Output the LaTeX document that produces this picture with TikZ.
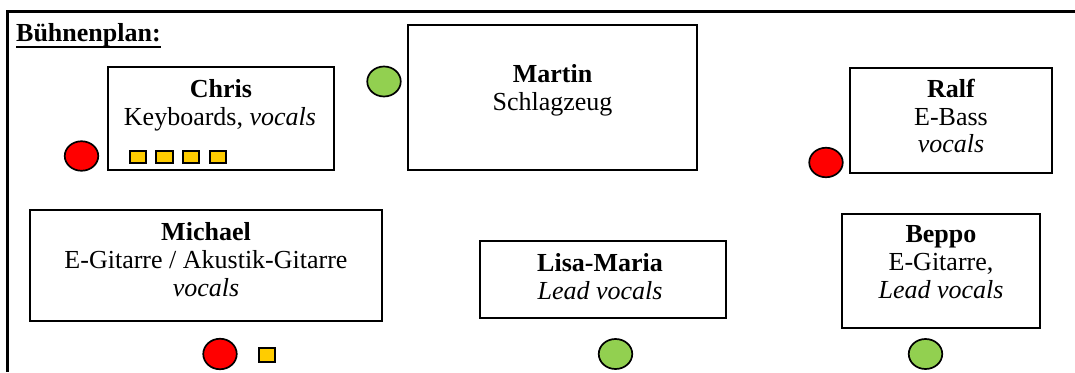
\documentclass[tikz,border=0pt]{standalone}
\usepackage{fontspec}
\setmainfont{Liberation Serif}
\usetikzlibrary{shapes.geometric}
\definecolor{micred}{HTML}{FF0000}
\definecolor{mongreen}{HTML}{92D050}
\definecolor{ampyellow}{HTML}{FFCC00}
\begin{document}
\begin{tikzpicture}[x=1pt,y=-1pt,
  box/.style={draw=black, line width=2.6pt, inner sep=0, rectangle},
  txt/.style={inner sep=0, anchor=base, font=\fontsize{26}{28}\selectfont},
  mic/.style={ellipse, draw=black, line width=1.7pt, fill=micred, inner sep=0, minimum width=33.5, minimum height=29.5},
  mon/.style={ellipse, draw=black, line width=1.7pt, fill=mongreen, inner sep=0, minimum width=33.5, minimum height=30},
  amp/.style={rectangle, draw=black, line width=1.7pt, fill=ampyellow, inner sep=0, minimum width=16.5, minimum height=12.5}]
\useasboundingbox (0,0) rectangle (1075,372);
% frame
\coordinate (frTR) at (1075,11);
\coordinate (frTL) at (7,11);
\coordinate (frBL) at (7,372);
\draw[line width=3pt] (frTR) -- (frTL) -- (frBL);
% title
\node[txt, anchor=base west] (title) at (16,41) {\textbf{Bühnenplan:}};
\draw[line width=2.4pt] ([yshift=-6]title.base west) -- ([yshift=-6]title.base east);
% boxes
\node[box, minimum width=226, minimum height=103] (chris) at (221,118.5) {};
\node[box, minimum width=289, minimum height=145] (martin) at (552.5,97.5) {};
\node[box, minimum width=202, minimum height=105] (ralf) at (951,120.5) {};
\node[box, minimum width=352, minimum height=111] (michael) at (206,265.5) {};
\node[box, minimum width=246, minimum height=77] (lisa) at (603,279.5) {};
\node[box, minimum width=198, minimum height=114] (beppo) at (941,271) {};
% texts
\node[txt] (chrisA) at (221,97) {\textbf{Chris}};
\node[txt] (chrisB) at (220,125) {Keyboards, \textit{vocals}};
\node[txt] (martinA) at (552.5,82) {\textbf{Martin}};
\node[txt] (martinB) at (552.5,110) {Schlagzeug};
\node[txt] (ralfA) at (951,97) {\textbf{Ralf}};
\node[txt] (ralfB) at (951,125) {E-Bass};
\node[txt] (ralfC) at (951,152.5) {\textit{vocals}};
\node[txt] (michaelA) at (206,240) {\textbf{Michael}};
\node[txt] (michaelB) at (206,268) {E-Gitarre / Akustik-Gitarre};
\node[txt] (michaelC) at (206,296) {\textit{vocals}};
\node[txt] (lisaA) at (600,271) {\textbf{Lisa-Maria}};
\node[txt] (lisaB) at (600,299) {\textit{Lead vocals}};
\node[txt] (beppoA) at (941,242) {\textbf{Beppo}};
\node[txt] (beppoB) at (941,270) {E-Gitarre,};
\node[txt] (beppoC) at (941,298.5) {\textit{Lead vocals}};
% microphones and monitors
\node[mic] (micChris) at (81.5,156) {};
\node[mon] (monMartin) at (384,81.5) {};
\node[mic] (micRalf) at (826,162.5) {};
\node[mic, minimum height=30.5] (micMichael) at (220,354) {};
\node[mon] (monLisa) at (615.5,354) {};
\node[mon] (monBeppo) at (925.5,354) {};
% amps
\node[amp] (ampA) at (138,157) {};
\node[amp] (ampB) at (164.5,157) {};
\node[amp] (ampC) at (191,157) {};
\node[amp] (ampD) at (218,157) {};
\node[amp, minimum height=14.5] (ampE) at (267,355) {};
\end{tikzpicture}
\end{document}
